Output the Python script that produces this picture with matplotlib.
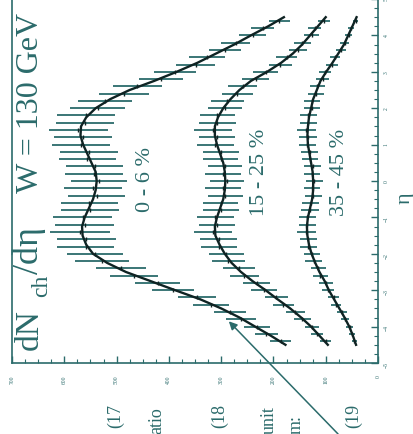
import matplotlib
matplotlib.use("Agg")
import matplotlib.pyplot as plt
from matplotlib.ticker import MultipleLocator

plt.rcParams['font.family'] = ['Liberation Serif', 'DejaVu Serif']

# measured points (pseudorapidity bins)
eta_pts = [-4.4, -4.2, -4.0, -3.8, -3.6, -3.4, -3.2, -3.0, -2.8, -2.6,
           -2.4, -2.2, -2.0, -1.8, -1.6, -1.4, -1.2, -1.0, -0.8, -0.6,
           -0.4, -0.2, 0.0, 0.2, 0.4,
           0.6, 0.8, 1.0, 1.2, 1.4, 1.6, 1.8, 2.0, 2.2, 2.4,
           2.6, 2.8, 3.0, 3.2, 3.4, 3.6, 3.8, 4.0, 4.2, 4.4]

dn_0_6 = [186, 214, 232, 262, 283, 319, 346, 392, 421, 467,
          492, 528, 541, 559, 558, 570, 561, 565, 551, 552,
          538, 545, 534, 543, 542,
          556, 553, 568, 564, 573, 560, 558, 536, 522, 486,
          460, 415, 389, 349, 327, 293, 272, 240, 220, 189]
err_0_6 = [20, 22, 25, 28, 31, 34, 37, 40, 43, 46,
           48, 51, 53, 55, 56, 57, 56, 56, 55, 55,
           54, 55, 54, 55, 54,
           55, 55, 56, 56, 57, 56, 55, 53, 51, 48,
           46, 43, 40, 37, 34, 31, 28, 25, 22, 20]

dn_15_25 = [100, 117, 126, 145, 158, 181, 195, 218, 232, 256,
            266, 286, 290, 304, 305, 315, 308, 311, 300, 301,
            292, 296, 289, 296, 293,
            301, 300, 311, 308, 315, 307, 307, 293, 288, 269,
            259, 234, 215, 187, 175, 153, 145, 127, 121, 103]
err_15_25 = [11, 12, 14, 16, 18, 20, 22, 24, 26, 28,
             30, 32, 33, 34, 35, 36, 35, 35, 34, 34,
             33, 34, 33, 34, 33,
             34, 34, 35, 35, 36, 35, 34, 33, 32, 30,
             28, 26, 24, 22, 20, 18, 16, 14, 12, 11]

dn_35_45 = [45, 50, 54, 63, 69, 80, 85, 96, 99, 110,
            114, 123, 126, 133, 133, 137, 135, 135, 130, 129,
            124, 126, 122, 126, 125,
            130, 131, 135, 134, 137, 133, 133, 126, 126, 118,
            116, 106, 101, 88, 82, 71, 64, 56, 52, 43]
err_35_45 = [5, 6, 7, 8, 9, 10, 11, 12, 13, 14,
             15, 16, 16, 17, 17, 18, 17, 17, 17, 16,
             16, 16, 16, 16, 16,
             16, 17, 17, 17, 18, 17, 17, 16, 16, 15,
             14, 13, 12, 11, 10, 9, 8, 7, 6, 5]

# model curves
eta_fit = [-4.5, -4.25, -4.0, -3.75, -3.5, -3.25, -3.0, -2.75, -2.5, -2.25,
           -2.0, -1.75, -1.5, -1.25, -1.0, -0.75, -0.5, -0.25, 0.0,
           0.25, 0.5, 0.75, 1.0, 1.25, 1.5, 1.75, 2.0, 2.25, 2.5,
           2.75, 3.0, 3.25, 3.5, 3.75, 4.0, 4.25, 4.5]
fit_0_6 = [177, 205, 235, 265, 300, 340, 388, 435, 482, 518,
           545, 558, 565, 566, 561, 553, 545, 540, 538,
           540, 548, 556, 564, 569, 568, 558, 540, 512, 475,
           428, 385, 345, 310, 275, 243, 210, 180]
fit_15_25 = [96, 112, 128, 147, 168, 192, 215, 240, 262, 280,
             293, 303, 311, 312, 308, 302, 296, 293, 292,
             293, 296, 302, 308, 312, 312, 306, 296, 282, 265,
             243, 212, 185, 163, 145, 130, 115, 100]
fit_35_45 = [42, 48, 55, 64, 74, 84, 94, 102, 112, 120,
             127, 132, 135, 136, 134, 130, 126, 124, 124,
             125, 128, 131, 134, 135, 134, 132, 128, 124, 117,
             110, 99, 87, 76, 65, 57, 49, 41]

labels = ["0 - 6 %", "15 - 25 %", "35 - 45 %"]
label_pos = [(445, 0.08), (226, 0.27), (73, 0.27)]

teal = "#2b6b6b"
dark = "#0f2323"

W, H = 414, 435
fig = plt.figure(figsize=(W / 100, H / 100), dpi=100)
ax = fig.add_axes([12 / W, 1 - 364 / H, 366 / W, 364 / H])

for dn, err in [(dn_0_6, err_0_6), (dn_15_25, err_15_25), (dn_35_45, err_35_45)]:
    ax.errorbar(dn, eta_pts, xerr=err, fmt='none', ecolor=teal, elinewidth=1.3, capsize=0)
    ax.plot(dn, eta_pts, ls='none', marker='|', ms=3.5, mew=1.0, color=dark)

for fit in [fit_0_6, fit_15_25, fit_35_45]:
    ax.plot(fit, eta_fit, color=dark, lw=1.7)

for txt, (x, y) in zip(labels, label_pos):
    ax.text(x, y, txt, rotation=90, fontsize=16, ha='center', va='center', color=teal)

ax.set_xlim(700, 0)
ax.set_ylim(-5, 5)
ax.xaxis.set_major_locator(MultipleLocator(100))
ax.xaxis.set_minor_locator(MultipleLocator(25))
ax.yaxis.set_major_locator(MultipleLocator(1))
ax.yaxis.set_minor_locator(MultipleLocator(0.25))
ax.yaxis.tick_right()
ax.tick_params(axis='x', which='both', direction='in', labelrotation=90, labelsize=4,
               pad=8, colors=teal)
ax.tick_params(axis='y', which='both', direction='in', labelrotation=90, labelsize=4,
               pad=4, colors=teal)
ax.tick_params(which='major', length=5, width=1.0)
ax.tick_params(which='minor', length=3, width=0.8)
for s in ax.spines.values():
    s.set_color(teal)
    s.set_linewidth(1.2)
ax.spines['top'].set_color("#f0a8a8")

# arrow pointing at the central curve
ax.annotate('', xy=(289, -3.8), xycoords='data',
            xytext=(340 / W, -2 / H), textcoords='figure fraction',
            arrowprops=dict(arrowstyle='-|>', color=teal, lw=1.1, mutation_scale=12),
            annotation_clip=False)

# rotated title, pieces placed along a common baseline
title_parts = [("dN", 38, 350, 24), ("ch", 47, 297, 17), ("/dη", 38, 274, 26),
               ("W = 130 GeV", 38, 193, 23)]
for t, x, y, fs in title_parts:
    fig.text(x / W, (H - y) / H, t, rotation=90, rotation_mode='anchor',
             fontsize=fs, ha='left', va='baseline', color=teal)

fig.text(405 / W, 237 / H, "η", rotation=90, fontsize=16, ha='center', va='center', color=teal)

# fragments of the surrounding page text
page_text = [("(17", 116, 428), ("atio", 157, 434), ("(18", 220, 428),
             ("unit", 269, 434), ("m:", 296, 434), ("(19", 354, 428)]
for t, x, y in page_text:
    fig.text(x / W, (H - y) / H, t, rotation=90, fontsize=13, ha='center', va='bottom', color=teal)

fig.savefig("out.png", dpi=100)
